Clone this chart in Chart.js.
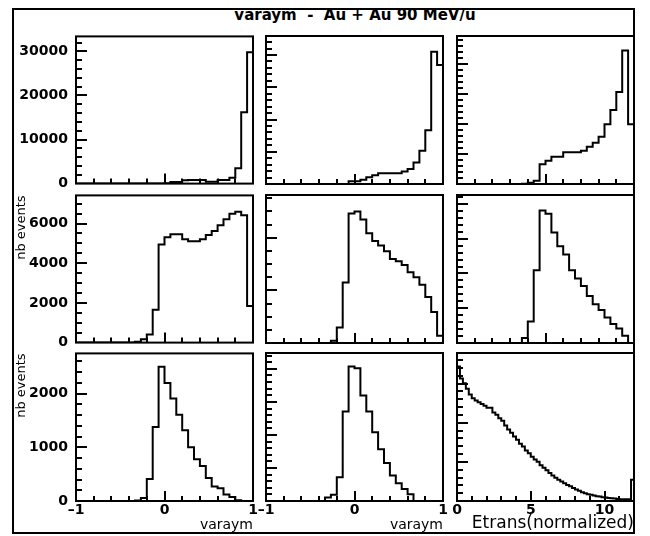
<!DOCTYPE html>
<html>
<head>
<meta charset="utf-8">
<script src="https://cdn.jsdelivr.net/npm/chart.js@4.4.1/dist/chart.umd.min.js"></script>
<style>
  html, body { margin: 0; padding: 0; background: #fff; }
  #page { position: relative; width: 650px; height: 536px; overflow: hidden; }
  #frame { position: absolute; left: 12px; top: 8px; width: 619px; height: 522px; border: 2px solid #000; }
  #title { position: absolute; left: 76px; width: 558px; top: 6px; text-align: center;
           font: bold 15px "DejaVu Sans"; white-space: pre; }
  canvas { position: absolute; }
</style>
</head>
<body>
<div id="page">
  <div id="frame"></div>
  <div id="title">varaym  -  Au + Au 90 MeV/u</div>
</div>
<script>
// binning of the two kinds of histograms
const varaymRange = { min: -1, max: 1, bins: 30 };
const etransRange = { min: 0, max: 12, bins: 60 };

// tick labels
const varaymLabels = [-1, 0, 1];
const etransLabels = [0, 5, 10];
const yLabelsRow1 = [0, 10000, 20000, 30000];
const yLabelsRow2 = [0, 2000, 4000, 6000];
const yLabelsRow3 = [0, 1000, 2000];

// counts per bin
const countsR1C1 = [0,0,0,0,0,0,0,0,0,0,0,0,0,0,0,100,370,370,750,800,800,800,400,400,800,800,1300,3500,16200,29800];
const countsR1C2 = [0,0,0,0,0,0,0,0,0,0,0,0,0,0,820,820,1340,2060,2680,3300,3300,3300,3300,3900,4640,6700,10300,16700,41000,36900];
const countsR1C3 = [0,0,0,0,0,0,0,0,0,0,0,100,440,1110,6560,7780,9110,9110,10560,10560,10560,11100,12440,13780,15780,19890,24670,30670,44440,19890];

const countsR2C1 = [0,0,0,0,0,0,0,0,0,0,40,170,410,1650,4950,5310,5460,5460,5210,5110,5110,5210,5430,5630,5920,6220,6500,6600,6420,1850];
const countsR2C2 = [0,0,0,0,0,0,0,0,0,0,0,90,590,2300,4925,5000,4690,4175,3875,3710,3490,3190,3110,2960,2690,2500,2210,1750,1175,275];
const countsR2C3 = [0,0,0,0,0,0,0,0,0,0,0,285,1240,4190,7620,7430,6360,5560,5090,4190,3715,3280,2700,2230,1900,1470,1090,840,420,0];

const countsR3C1 = [0,0,0,0,0,0,0,0,0,0,10,57,408,1380,2500,2200,1910,1605,1320,1000,777,650,427,268,236,121,76,13,0,0];
const countsR3C2 = [0,0,0,0,0,0,0,0,0,0,52,93,361,1356,2036,2010,1598,1356,1041,784,577,387,268,180,103,0,0,0,0,0];
const countsR3C3 = [3435,3130,3010,2870,2720,2625,2565,2520,2480,2435,2380,2380,2260,2200,2113,2050,1930,1826,1740,1650,
                    1565,1460,1390,1287,1217,1130,1060,1000,913,852,783,713,652,591,540,496,452,409,374,330,
                    296,261,226,200,174,157,139,122,113,96,87,78,70,61,52,43,43,43,43,540];

// layout of the 3x3 grid (pixels)
const colLeft = [76, 266, 457];
const rowTop = [36, 195, 353];
const panelW = 177, panelH = 148;

const varAxis = { range: varaymRange, labels: varaymLabels, title: 'varaym', major: 1, minor: 0.2, titleSize: 14 };
const etAxis = { range: etransRange, labels: etransLabels, title: 'Etrans(normalized)', major: 5, minor: 1, titleSize: 17 };

const panels = [
  { row: 0, col: 0, counts: countsR1C1, axis: varAxis, yMax: 33400, yMajor: 10000, yMinor: 2000, yLabels: yLabelsRow1 },
  { row: 0, col: 1, counts: countsR1C2, axis: varAxis, yMax: 45900, yMajor: 10000, yMinor: 2000 },
  { row: 0, col: 2, counts: countsR1C3, axis: varAxis, yMax: 49300, yMajor: 10000, yMinor: 2000 },
  { row: 1, col: 0, counts: countsR2C1, axis: varAxis, yMax: 7420, yMajor: 2000, yMinor: 500, yLabels: yLabelsRow2 },
  { row: 1, col: 1, counts: countsR2C2, axis: varAxis, yMax: 5625, yMajor: 2000, yMinor: 500 },
  { row: 1, col: 2, counts: countsR2C3, axis: varAxis, yMax: 8515, yMajor: 2000, yMinor: 400 },
  { row: 2, col: 0, counts: countsR3C1, axis: varAxis, yMax: 2750, yMajor: 1000, yMinor: 200, yLabels: yLabelsRow3 },
  { row: 2, col: 1, counts: countsR3C2, axis: varAxis, yMax: 2240, yMajor: 500, yMinor: 100 },
  { row: 2, col: 2, counts: countsR3C3, axis: etAxis, yMax: 3780, yMajor: 1000, yMinor: 200 }
];

const isMajor = (v, step) => Math.abs(v / step - Math.round(v / step)) < 1e-6;

// frame + inward ticks, HIGZ style
const frameTicks = {
  id: 'frameTicks',
  afterDatasetsDraw(chart, args, o) {
    const { ctx, chartArea: a, scales: { x, y } } = chart;
    ctx.save();
    ctx.strokeStyle = '#000';
    ctx.lineWidth = 2;
    ctx.beginPath();
    const ny = Math.floor(o.yMax / o.yMinor + 1e-6);
    for (let i = 1; i <= ny; i++) {
      const v = i * o.yMinor;
      const py = Math.round(y.getPixelForValue(v));
      ctx.moveTo(a.left, py);
      ctx.lineTo(a.left + (isMajor(v, o.yMajor) ? 11 : 6), py);
    }
    const nx = Math.round((o.xMax - o.xMin) / o.xMinor);
    for (let i = 1; i < nx; i++) {
      const v = o.xMin + i * o.xMinor;
      const px = Math.round(x.getPixelForValue(v));
      ctx.moveTo(px, a.bottom);
      ctx.lineTo(px, a.bottom - (isMajor(v, o.xMajor) ? 10 : 5));
    }
    ctx.stroke();
    ctx.strokeRect(a.left, a.top, a.right - a.left, a.bottom - a.top);
    ctx.restore();
  }
};

const minusFmt = (v) => (v < 0 ? '\u2013' + Math.abs(v) : String(v));
const page = document.getElementById('page');

panels.forEach(p => {
  const isLeft = p.col === 0, isBottom = p.row === 2;
  const L = isLeft ? 62 : (isBottom ? 14 : 4);
  const R = isBottom ? 12 : 4;
  const T = isLeft ? 16 : 4;
  const B = isBottom ? 36 : (isLeft ? 16 : 4);

  const canvas = document.createElement('canvas');
  canvas.width = panelW + L + R;
  canvas.height = panelH + T + B;
  canvas.style.left = (colLeft[p.col] - L) + 'px';
  canvas.style.top = (rowTop[p.row] - T) + 'px';
  page.appendChild(canvas);

  const rg = p.axis.range;
  const w = (rg.max - rg.min) / rg.bins;
  const pts = [{ x: rg.min, y: 0 }];
  p.counts.forEach((c, i) => pts.push({ x: rg.min + i * w, y: c }));
  pts.push({ x: rg.max, y: p.counts[p.counts.length - 1] });
  pts.push({ x: rg.max, y: 0 });

  new Chart(canvas, {
    type: 'line',
    data: { datasets: [{ data: pts, borderColor: '#000', borderWidth: 2, pointRadius: 0, stepped: true, fill: false }] },
    options: {
      responsive: false, animation: false, devicePixelRatio: 1,
      layout: { padding: { top: T, right: R, left: 0, bottom: 0 } },
      plugins: {
        legend: { display: false }, tooltip: { enabled: false },
        frameTicks: { yMax: p.yMax, yMajor: p.yMajor, yMinor: p.yMinor,
                      xMin: rg.min, xMax: rg.max, xMajor: p.axis.major, xMinor: p.axis.minor }
      },
      scales: {
        x: {
          type: 'linear', min: rg.min, max: rg.max,
          grid: { display: false, drawTicks: false }, border: { display: false },
          ticks: { display: isBottom, autoSkip: false, maxRotation: 0, padding: 1, color: '#000',
                   font: { family: 'DejaVu Sans', size: 14, weight: 'bold' }, callback: minusFmt },
          afterBuildTicks: s => { s.ticks = p.axis.labels.map(v => ({ value: v })); },
          afterFit: s => { s.height = B; },
          title: { display: isBottom, text: p.axis.title, align: 'end', padding: { top: 0, bottom: 3 }, color: '#000',
                   font: { family: 'DejaVu Sans', size: p.axis.titleSize } }
        },
        y: {
          type: 'linear', min: 0, max: p.yMax,
          grid: { display: false, drawTicks: false }, border: { display: false },
          ticks: { display: isLeft, padding: 8, color: '#000', callback: v => String(v),
                   font: { family: 'DejaVu Sans', size: 14, weight: 'bold' } },
          afterBuildTicks: s => { s.ticks = (p.yLabels || []).map(v => ({ value: v })); },
          afterFit: s => { s.width = L; },
          title: { display: isLeft && p.row > 0, text: 'nb events', align: 'end', padding: 0, color: '#000',
                   font: { family: 'DejaVu Sans', size: 13 } }
        }
      }
    },
    plugins: [frameTicks]
  });
});
</script>
</body>
</html>
